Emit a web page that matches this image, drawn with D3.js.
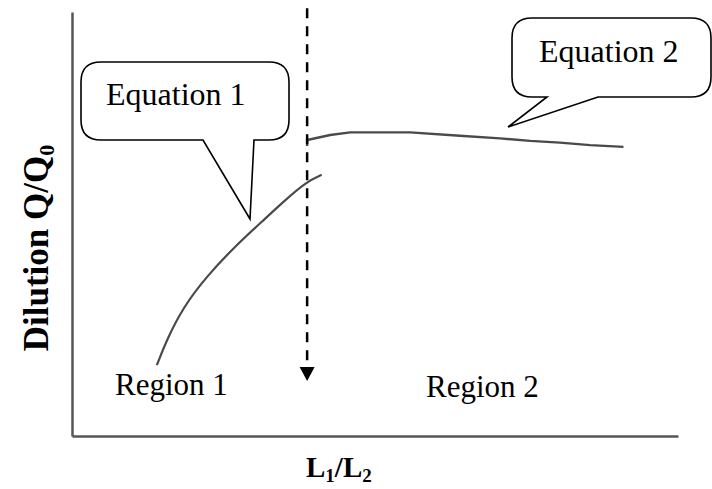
<!DOCTYPE html>
<html>
<head>
<meta charset="utf-8">
<script src="https://cdn.jsdelivr.net/npm/d3@7"></script>
<style>
  body { margin: 0; background: #fff; }
  svg { display: block; }
  text { font-family: "Liberation Serif", "Times New Roman", serif; fill: #000; }
</style>
</head>
<body>
<div></div>
<script>
// curve, in axis units (0..10 on both axes)
var region1X = [1.40, 1.56, 1.84, 2.22, 2.66, 3.16, 3.49, 3.87, 4.12];
var region1Y = [1.67, 2.26, 3.05, 3.76, 4.43, 5.09, 5.53, 6.00, 6.16];
var region2X = [3.88, 3.88, 4.26, 4.59, 5.58, 6.40, 7.06, 7.56, 8.05, 8.55, 9.10];
var region2Y = [6.84, 6.98, 7.10, 7.16, 7.16, 7.08, 7.02, 6.96, 6.92, 6.86, 6.82];
var boundaryX = 3.88;
var boundaryY = [10.09, 1.30];
var regionLabels = ["Region 1", "Region 2"];
var equationLabels = ["Equation 1", "Equation 2"];

var widthSvg = 712,
    heightSvg = 489;

var svg = d3.select("div").append("svg")
    .attr("width", widthSvg)
    .attr("height", heightSvg);

var xScale = d3.scaleLinear().domain([0, 10]).range([72, 678]);
var yScale = d3.scaleLinear().domain([0, 10]).range([436, 12]);

// axes (no ticks, just the two lines)
svg.append("g")
    .attr("transform", "translate(0," + yScale(0) + ")")
    .call(d3.axisBottom(xScale).tickValues([]).tickSizeOuter(0))
    .select(".domain").attr("stroke", "#555").attr("stroke-width", 2.5);
svg.append("g")
    .attr("transform", "translate(" + xScale(0) + ",0)")
    .call(d3.axisLeft(yScale).tickValues([]).tickSizeOuter(0))
    .select(".domain").attr("stroke", "#555").attr("stroke-width", 2.5);

var line = d3.line()
    .x(function (d) { return xScale(d[0]); })
    .y(function (d) { return yScale(d[1]); });

svg.append("path")
    .attr("fill", "none")
    .attr("stroke", "#4a4a4a")
    .attr("stroke-width", 2.2)
    .attr("d", line.curve(d3.curveBasis)(d3.zip(region1X, region1Y)));

svg.append("path")
    .attr("fill", "none")
    .attr("stroke", "#4a4a4a")
    .attr("stroke-width", 2.4)
    .attr("d", line.curve(d3.curveLinear)(d3.zip(region2X, region2Y)));

// dashed boundary with arrow head
svg.append("line")
    .attr("x1", xScale(boundaryX))
    .attr("x2", xScale(boundaryX))
    .attr("y1", yScale(boundaryY[0]))
    .attr("y2", yScale(boundaryY[1]) - 12)
    .attr("stroke", "#000")
    .attr("stroke-width", 2.5)
    .attr("stroke-dasharray", "10,8");

var tipX = xScale(boundaryX), tipY = yScale(boundaryY[1]);
svg.append("path")
    .attr("d", "M" + (tipX - 7.5) + "," + (tipY - 14) + "L" + (tipX + 7.5) + "," + (tipY - 14) + "L" + tipX + "," + tipY + "Z")
    .attr("fill", "#000");

// speech bubbles
function bubble(x0, y0, x1, y1, r, tailL, tailR, tip) {
    return "M" + (x0 + r) + "," + y0 +
        "H" + (x1 - r) + "Q" + x1 + "," + y0 + " " + x1 + "," + (y0 + r) +
        "V" + (y1 - r) + "Q" + x1 + "," + y1 + " " + (x1 - r) + "," + y1 +
        "H" + tailR + "L" + tip[0] + "," + tip[1] + "L" + tailL + "," + y1 +
        "H" + (x0 + r) + "Q" + x0 + "," + y1 + " " + x0 + "," + (y1 - r) +
        "V" + (y0 + r) + "Q" + x0 + "," + y0 + " " + (x0 + r) + "," + y0 + "Z";
}

svg.append("path")
    .attr("d", bubble(81, 62, 289, 140, 20, 203, 254, [250, 219]))
    .attr("fill", "#fff")
    .attr("stroke", "#000")
    .attr("stroke-width", 1.6);

svg.append("path")
    .attr("d", bubble(512, 18, 711, 97, 20, 547, 598, [508, 127]))
    .attr("fill", "#fff")
    .attr("stroke", "#000")
    .attr("stroke-width", 1.6);

svg.append("text")
    .attr("x", 106).attr("y", 105)
    .attr("font-size", 32)
    .text(equationLabels[0]);
svg.append("text")
    .attr("x", 539).attr("y", 62)
    .attr("font-size", 32)
    .text(equationLabels[1]);

svg.append("text")
    .attr("x", 115).attr("y", 395)
    .attr("font-size", 31)
    .text(regionLabels[0]);
svg.append("text")
    .attr("x", 426).attr("y", 397)
    .attr("font-size", 31)
    .text(regionLabels[1]);

// axis titles
var xt = svg.append("text")
    .attr("x", 306).attr("y", 477)
    .attr("font-size", 29)
    .attr("font-weight", "bold");
xt.append("tspan").text("L");
xt.append("tspan").attr("font-size", 19).attr("dy", 5).text("1");
xt.append("tspan").attr("dy", -5).text("/L");
xt.append("tspan").attr("font-size", 19).attr("dy", 5).text("2");

var yt = svg.append("text")
    .attr("transform", "translate(48,248) rotate(-90)")
    .attr("text-anchor", "middle")
    .attr("font-size", 35)
    .attr("font-weight", "bold");
yt.append("tspan").text("Dilution Q/Q");
yt.append("tspan").attr("font-size", 22).attr("dy", 6).text("0");
</script>
</body>
</html>
